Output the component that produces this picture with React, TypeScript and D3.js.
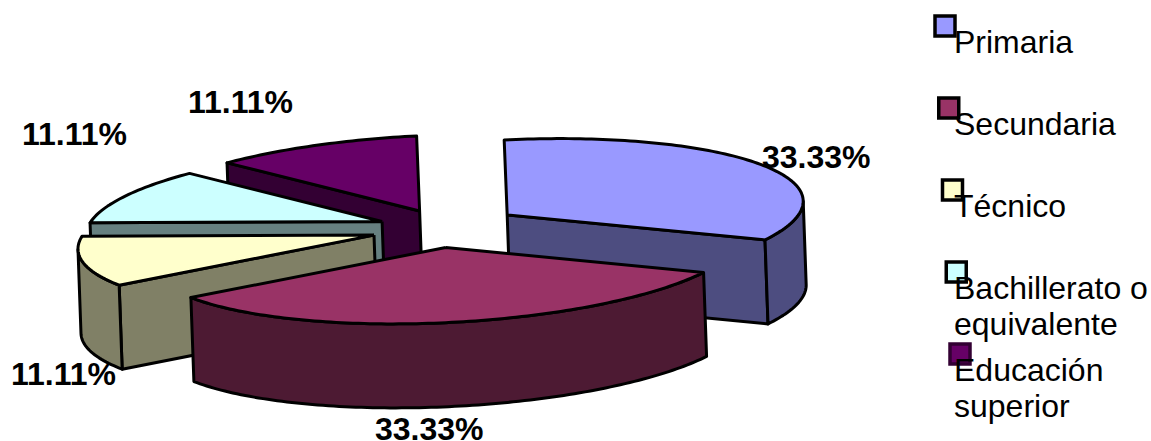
import React from "react";
import * as d3 from "d3";

// Share of respondents by education level
const categories = ["Primaria", "Secundaria", "Técnico", "Bachillerato o equivalente", "Educación superior"];
const values = [33.33, 33.33, 11.11, 11.11, 11.11];
const topColors = ["#9999FF", "#993366", "#FFFFCC", "#CCFFFF", "#660066"];
const legendLines = [["Primaria"], ["Secundaria"], ["Técnico"], ["Bachillerato o", "equivalente"], ["Educación", "superior"]];

const WIDTH = 1151;
const HEIGHT = 441;

// Tilted disc projection
const CX = 445;
const CY = 228;
const RX = 296;
const RY = 75;
const SHEAR = -0.049;
const SKEW_X = -3;
const DEPTH = 84;
const DEPTH_X = 3;
const EXPLODE_X = 0.244;
const EXPLODE_Y = 0.26;

const FONT = "'Liberation Sans', Arial, sans-serif";

type Pt = [number, number];

const project = (theta: number, r: number, ry: number = r): Pt => {
  const u = RX * Math.sin(theta) * r + SKEW_X * Math.cos(theta) * r;
  const v = -RY * Math.cos(theta) * ry;
  return [u, v + SHEAR * RX * Math.sin(theta) * ry];
};

const pathOf = d3.line<Pt>().x((d) => d[0]).y((d) => d[1]);

const shade = (c: string) => {
  const rgb = d3.rgb(c);
  return d3.rgb(rgb.r / 2, rgb.g / 2, rgb.b / 2).formatHex();
};

const arcAngles = (a0: number, a1: number) => {
  const n = Math.max(2, Math.ceil((a1 - a0) / 0.02));
  const s = d3.scaleLinear().domain([0, n]).range([a0, a1]);
  return d3.range(n + 1).map((i) => s(i));
};

const pie = d3.pie<number>().sort(null).value((d) => d);

const legendRows = d3.range(categories.length);
const legendBoxX = d3.scaleLinear().domain([0, 4]).range([935, 950]);
const legendBoxY = d3.scaleLinear().domain([0, 4]).range([16, 344]);
const legendBaseY = [53, 135, 217, 299, 381];

// Label anchors: [x start, baseline]
const labelPos: Pt[] = [
  [762, 168],
  [375, 440],
  [11, 385],
  [22, 145],
  [188, 113],
];

export default function App() {
  const arcs = pie(values);
  const order = [4, 3, 2, 0, 1];
  return (
    <svg
      width={WIDTH}
      height={HEIGHT}
      viewBox={`0 0 ${WIDTH} ${HEIGHT}`}
      style={{ position: "absolute", left: 0, top: 0, background: "#fff" }}
    >
      {order.map((i) => {
        const a = arcs[i];
        const mid = (a.startAngle + a.endAngle) / 2;
        const [ox, oy] = project(mid, EXPLODE_X, EXPLODE_Y);
        const apex: Pt = [CX + ox, CY + oy];
        const top = (t: number): Pt => {
          const [x, y] = project(t, 1);
          return [apex[0] + x, apex[1] + y];
        };
        const down = (p: Pt): Pt => [p[0] + DEPTH_X, p[1] + DEPTH];
        const topPts = [apex, ...arcAngles(a.startAngle, a.endAngle).map(top), apex];

        const faces: Pt[][] = [];
        if (Math.sin(a.startAngle) < -1e-6) {
          const e = top(a.startAngle);
          faces.push([apex, e, down(e), down(apex), apex]);
        }
        if (Math.sin(a.endAngle) > 1e-6) {
          const e = top(a.endAngle);
          faces.push([apex, e, down(e), down(apex), apex]);
        }
        const w0 = Math.max(a.startAngle, Math.PI / 2);
        const w1 = Math.min(a.endAngle, (3 * Math.PI) / 2);
        if (w1 > w0) {
          const edge = arcAngles(w0, w1).map(top);
          faces.push([...edge, ...edge.slice().reverse().map(down), edge[0]]);
        }
        return (
          <g key={categories[i]} stroke="#000" strokeWidth={3} strokeLinejoin="round">
            {faces.map((f, k) => (
              <path key={k} d={pathOf(f) ?? ""} fill={shade(topColors[i])} />
            ))}
            <path d={pathOf(topPts) ?? ""} fill={topColors[i]} />
          </g>
        );
      })}

      {values.map((v, i) => (
        <text
          key={i}
          x={labelPos[i][0]}
          y={labelPos[i][1]}
          fontFamily={FONT}
          fontSize={32}
          fontWeight="bold"
          fill="#000"
        >
          {d3.format(".2f")(v)}%
        </text>
      ))}

      {legendRows.map((i) => (
        <rect
          key={i}
          x={legendBoxX(i)}
          y={legendBoxY(i)}
          width={20}
          height={20}
          fill={topColors[i]}
          stroke={i === 4 ? "#330033" : "#000"}
          strokeWidth={3.5}
        />
      ))}
      {legendRows.map((i) => (
        <text key={i} fontFamily={FONT} fontSize={32} fill="#000">
          {legendLines[i].map((line, k) => (
            <tspan key={k} x={954} y={legendBaseY[i] + k * 36}>
              {line}
            </tspan>
          ))}
        </text>
      ))}
    </svg>
  );
}
